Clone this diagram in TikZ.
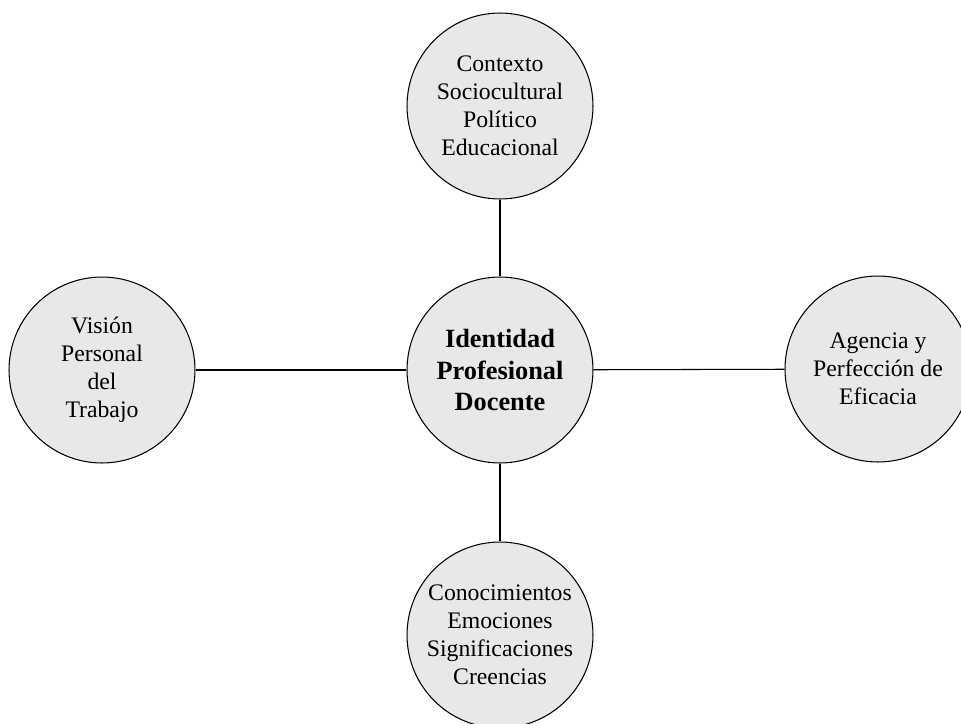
\documentclass[tikz,border=0pt]{standalone}
\usepackage{fontspec}
\setmainfont{Liberation Serif}
\definecolor{circfill}{RGB}{232,232,232}

\begin{document}
\begin{tikzpicture}[x=0.02cm, y=-0.02cm, line width=0.6pt]
  % Canvas in pixel units, origin top left
  \useasboundingbox (0,0) rectangle (961,724);
  \tikzset{
    topic/.style={circle, draw, fill=circfill, minimum size=3.72cm, inner sep=0pt,
      align=center, font=\fontsize{13.5}{15.9}\selectfont},
    core/.style={topic, font=\fontsize{15}{18.2}\selectfont\bfseries}
  }

  % --- Centre ---
  \node[core] (ipd) at (500, 370) {Identidad\\Profesional\\Docente};

  % --- Surrounding topics ---
  \node[topic] (ctx) at (500, 106) {Contexto\\Sociocultural\\Político\\Educacional};
  \node[topic] (vis) at (102, 370) {Visión\\Personal\\del\\Trabajo};
  \node[topic] (age) at (878, 369) {Agencia y\\Perfección de\\Eficacia};
  \node[topic] (con) at (500, 635) {Conocimientos\\Emociones\\Significaciones\\Creencias};

  % --- Links ---
  \draw (ipd) -- (ctx);
  \draw (ipd) -- (vis);
  \draw (ipd) -- (age);
  \draw (ipd) -- (con);
\end{tikzpicture}
\end{document}
